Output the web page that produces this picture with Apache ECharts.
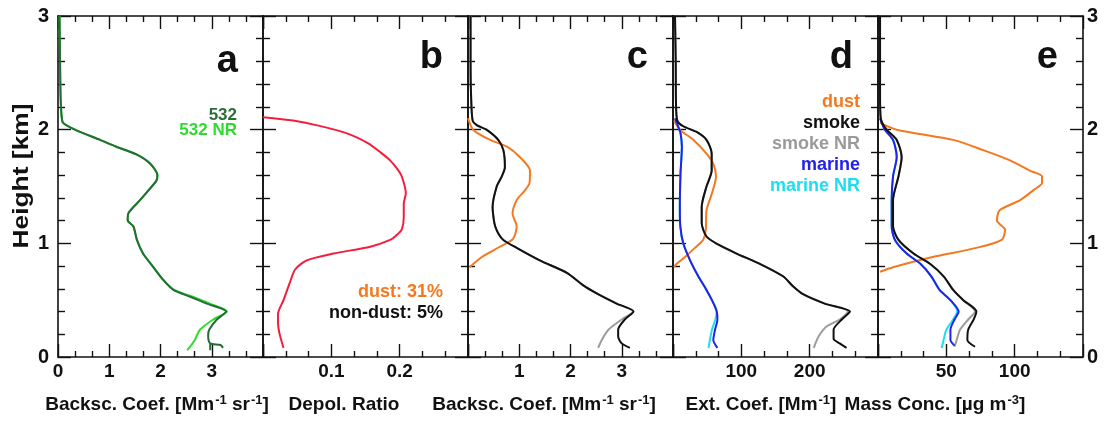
<!DOCTYPE html>
<html>
<head>
<meta charset="utf-8">
<script src="https://cdn.jsdelivr.net/npm/echarts@6/dist/echarts.min.js"></script>
<style>
  html, body { margin: 0; padding: 0; background: #fff; }
  #chart { width: 1110px; height: 423px; }
</style>
</head>
<body>
<div id="chart"></div>
<script>
// Profiles are [value, height in km] pairs, top to bottom.

// (a) backscatter coefficient at 532 nm [Mm-1 sr-1]
const bsc532 = [[0.03,3.0],[0.04,2.6],[0.05,2.3],[0.07,2.12],[0.1,2.06],[0.33,2.0],[0.82,1.91],[1.14,1.85],[1.54,1.78],[1.8,1.7],[1.94,1.6],[1.92,1.55],[1.83,1.5],[1.6,1.38],[1.37,1.26],[1.36,1.2],[1.47,1.15],[1.54,1.03],[1.66,0.91],[1.86,0.79],[2.05,0.68],[2.25,0.59],[2.58,0.53],[2.9,0.47],[3.28,0.4],[3.1,0.33],[2.95,0.24],[2.93,0.19],[2.97,0.12],[3.17,0.105],[3.22,0.08],'-',[2.97,0.12],[2.97,0.06]];
const bsc532NR = [[0.03,3.0],[0.04,2.6],[0.05,2.3],[0.07,2.12],[0.1,2.06],[0.33,2.0],[0.82,1.91],[1.14,1.85],[1.54,1.78],[1.8,1.7],[1.94,1.6],[1.92,1.55],[1.83,1.5],[1.6,1.38],[1.37,1.26],[1.36,1.2],[1.47,1.15],[1.54,1.03],[1.66,0.91],[1.86,0.79],[2.05,0.68],[2.27,0.59],[2.63,0.53],[2.96,0.47],[3.3,0.4],[3.03,0.33],[2.77,0.24],[2.67,0.15],[2.56,0.08],[2.52,0.06]];

// (b) particle depolarization ratio
const depol = [[0.0,2.11],[0.044,2.08],[0.078,2.04],[0.122,1.97],[0.154,1.88],[0.172,1.8],[0.186,1.73],[0.197,1.65],[0.203,1.59],[0.209,1.44],[0.206,1.35],[0.206,1.23],[0.203,1.12],[0.195,1.07],[0.186,1.03],[0.157,0.97],[0.103,0.91],[0.064,0.85],[0.047,0.77],[0.039,0.65],[0.03,0.5],[0.022,0.38],[0.022,0.3],[0.024,0.21],[0.03,0.08]];

// (c) backscatter coefficient split into dust and smoke
const bscSmoke = [[0.05,3.0],[0.05,2.6],[0.06,2.3],[0.09,2.08],[0.17,2.04],[0.36,2.0],[0.59,1.91],[0.69,1.82],[0.72,1.67],[0.65,1.58],[0.56,1.5],[0.48,1.32],[0.5,1.22],[0.53,1.15],[0.6,1.08],[0.69,1.03],[0.95,0.96],[1.4,0.85],[1.93,0.74],[2.25,0.63],[2.51,0.56],[2.9,0.47],[3.23,0.4],[3.06,0.33],[2.93,0.24],[2.93,0.18],[3.0,0.12],[3.16,0.08]];
const bscSmokeNR = [[0.05,3.0],[0.05,2.6],[0.06,2.3],[0.09,2.08],[0.17,2.04],[0.36,2.0],[0.59,1.91],[0.69,1.82],[0.72,1.67],[0.65,1.58],[0.56,1.5],[0.48,1.32],[0.5,1.22],[0.53,1.15],[0.6,1.08],[0.69,1.03],[0.95,0.96],[1.4,0.85],[1.93,0.74],[2.25,0.63],[2.51,0.56],[2.9,0.47],[3.22,0.4],[3.0,0.33],[2.74,0.24],[2.61,0.15],[2.54,0.08]];
const bscDust = [[0.0,2.1],[0.1,2.0],[0.43,1.91],[0.76,1.85],[1.01,1.76],[1.21,1.64],[1.2,1.53],[1.1,1.46],[0.95,1.38],[0.87,1.26],[0.95,1.15],[0.88,1.04],[0.62,0.97],[0.27,0.88],[0.03,0.79]];

// (d) extinction coefficient [Mm-1]
const extSmoke = [[2.9,3.0],[4,2.6],[4.4,2.23],[6.3,2.08],[15,2.03],[34.6,1.98],[49,1.91],[56.6,1.79],[56.6,1.64],[49,1.5],[42,1.32],[42,1.18],[49,1.06],[66,0.99],[93,0.91],[127,0.82],[161,0.71],[176,0.62],[191,0.55],[222,0.47],[259,0.4],[247,0.33],[235,0.24],[235,0.16],[244,0.12],[254,0.08]];
const extSmokeNR = [[2.9,3.0],[4,2.6],[4.4,2.23],[6.3,2.08],[15,2.03],[34.6,1.98],[49,1.91],[56.6,1.79],[56.6,1.64],[49,1.5],[42,1.32],[42,1.18],[49,1.06],[66,0.99],[93,0.91],[127,0.82],[161,0.71],[176,0.62],[191,0.55],[222,0.47],[256,0.4],[244,0.33],[225,0.27],[213,0.18],[206,0.08]];
const extDust = [[1.5,2.08],[10,2.0],[30,1.91],[49,1.79],[59,1.7],[63,1.59],[57,1.44],[49,1.29],[48,1.12],[44,1.03],[32,0.96],[17.6,0.88],[5.4,0.82],[1.5,0.79]];
const extMarine = [[3,2.1],[8,2.02],[11,1.97],[13,1.85],[12,1.72],[11,1.62],[10,1.32],[10.7,1.15],[15,1.0],[25,0.85],[37,0.71],[49,0.59],[57,0.5],[64,0.4],[65,0.33],[61.5,0.24],[59,0.15],[65,0.08]];
const extMarineNR = [[3,2.1],[8,2.02],[11,1.97],[13,1.85],[12,1.72],[11,1.62],[10,1.32],[10.7,1.15],[15,1.0],[25,0.85],[37,0.71],[49,0.59],[57,0.5],[64,0.4],[62,0.33],[57,0.24],[54,0.15],[52,0.08]];

// (e) mass concentration [ug m-3]
const massDust = [[1.5,2.06],[13.7,2.0],[55,1.91],[77,1.82],[96.6,1.73],[111,1.64],[120,1.59],[120,1.53],[114,1.47],[104,1.38],[89,1.29],[87,1.2],[93,1.12],[90.5,1.03],[72,0.96],[40,0.88],[11,0.79],[1.5,0.75]];
const massSmoke = [[1.5,3.0],[1.5,2.3],[2,2.1],[6.3,2.0],[13.7,1.91],[17.3,1.76],[15,1.59],[11,1.38],[11,1.15],[15,1.03],[26,0.91],[38,0.82],[48,0.71],[55,0.59],[62.4,0.5],[72,0.4],[70,0.33],[66,0.24],[65.4,0.15],[71,0.09]];
const massSmokeNR = [[1.5,3.0],[1.5,2.3],[2,2.1],[6.3,2.0],[13.7,1.91],[17.3,1.76],[15,1.59],[11,1.38],[11,1.15],[15,1.03],[26,0.91],[38,0.82],[48,0.71],[55,0.59],[62.4,0.5],[71,0.4],[66,0.33],[60,0.24],[57.6,0.15],[56,0.09]];
const massMarine = [[1.5,2.1],[5,2.0],[11,1.91],[13.7,1.76],[11,1.59],[10,1.38],[10,1.15],[12.4,1.03],[21,0.91],[31,0.82],[39,0.71],[45,0.59],[53,0.5],[59,0.4],[56,0.33],[53,0.24],[53,0.15],[56,0.1]];
const massMarineNR = [[1.5,2.1],[5,2.0],[11,1.91],[13.7,1.76],[11,1.59],[10,1.38],[10,1.15],[12.4,1.03],[21,0.91],[31,0.82],[39,0.71],[45,0.59],[53,0.5],[58,0.4],[55,0.33],[50,0.24],[48,0.15],[46.6,0.08]];

// axis ranges and labelled ticks
const heightTicks = [0, 1, 2, 3];
const xMax = [4, 0.3, 4, 300, 150];
const xStep = [1, 0.1, 1, 100, 50];
const xTickLabels = [[0, 1, 2, 3], [0.1, 0.2], [1, 2, 3], [100, 200], [50, 100]];
const panelLetters = ['a', 'b', 'c', 'd', 'e'];

const FONT = '"Liberation Sans", Arial, Helvetica, sans-serif';
const C = {
  green: '#256d37', greenNR: '#2fdc2f', red: '#f51d3c', orange: '#f5781e',
  black: '#111111', gray: '#9c9c9c', blue: '#2222ea', cyan: '#1fdcf0'
};

const panelLeft = 58, panelW = 205, panelTop = 16, panelH = 341;

const grids = [], xAxes = [], yAxes = [];
const tickStyle = { color: '#111', width: 1.4 };

function near(v, list) { return list.some(t => Math.abs(v - t) < 1e-6); }

for (let i = 0; i < 5; i++) {
  grids.push({ left: panelLeft + i * panelW, top: panelTop, width: panelW, height: panelH });
  ['bottom', 'top'].forEach(pos => {
    xAxes.push({
      type: 'value', gridIndex: i, position: pos, min: 0, max: xMax[i], interval: xStep[i],
      axisLine: { onZero: false, lineStyle: { color: '#111', width: 1.6 } },
      axisTick: { inside: true, length: 13, lineStyle: tickStyle },
      minorTick: { show: true, splitNumber: 3, length: 6, lineStyle: tickStyle },
      splitLine: { show: false }, minorSplitLine: { show: false },
      axisLabel: {
        show: pos === 'bottom', margin: 5, color: '#111',
        fontFamily: FONT, fontWeight: 'bold', fontSize: 19,
        showMinLabel: true, showMaxLabel: true,
        formatter: v => near(v, xTickLabels[i]) ? String(+v.toFixed(3)) : ''
      }
    });
  });
  ['left', 'right'].forEach(pos => {
    const showLab = (i === 0 && pos === 'left') || (i === 4 && pos === 'right');
    yAxes.push({
      type: 'value', gridIndex: i, position: pos, min: 0, max: 3, interval: 1,
      axisLine: { onZero: false, lineStyle: { color: '#111', width: 1.6 } },
      axisTick: { inside: true, length: 13, lineStyle: tickStyle },
      minorTick: { show: true, splitNumber: 5, length: 7, lineStyle: tickStyle },
      splitLine: { show: false }, minorSplitLine: { show: false },
      axisLabel: {
        show: showLab, margin: pos === 'left' ? 9 : 4, color: '#111',
        fontFamily: FONT, fontWeight: 'bold', fontSize: 20,
        formatter: v => near(v, heightTicks) ? String(Math.round(v)) : ''
      }
    });
  });
}

function line(panel, data, color, width) {
  return {
    type: 'line', xAxisIndex: panel * 2, yAxisIndex: panel * 2, data: data,
    showSymbol: false, smooth: 0.25, connectNulls: false, silent: true,
    lineStyle: { color: color, width: width || 2 }
  };
}

const series = [
  line(0, bsc532NR, C.greenNR), line(0, bsc532, C.green),
  line(1, depol, C.red),
  line(2, bscSmokeNR, C.gray), line(2, bscDust, C.orange), line(2, bscSmoke, C.black),
  line(3, extSmokeNR, C.gray), line(3, extMarineNR, C.cyan), line(3, extDust, C.orange),
  line(3, extMarine, C.blue), line(3, extSmoke, C.black),
  line(4, massSmokeNR, C.gray), line(4, massMarineNR, C.cyan), line(4, massDust, C.orange),
  line(4, massMarine, C.blue), line(4, massSmoke, C.black)
];

function txt(text, x, y, size, color, align, extra) {
  return Object.assign({
    type: 'text', x: x, y: y, silent: true,
    style: {
      text: text, fill: color, fontFamily: FONT, fontWeight: 'bold', fontSize: size,
      textAlign: align || 'center', textVerticalAlign: 'bottom'
    }
  }, extra || {});
}

const supRich = {
  sup: { fontSize: 13, fontWeight: 'bold', fontFamily: FONT, fill: '#111', verticalAlign: 'top', lineHeight: 12, padding: [0, 0, 0, 1] }
};
function axisTitle(text, cx) {
  return {
    type: 'text', x: cx, y: 405, silent: true,
    style: {
      text: text, fill: '#111', fontFamily: FONT, fontWeight: 'bold', fontSize: 19, lineHeight: 23,
      textAlign: 'center', textVerticalAlign: 'middle', rich: supRich
    }
  };
}

const graphics = [
  // y-axis title
  {
    type: 'text', x: 22, y: 176, rotation: Math.PI / 2, scaleX: 1.2, silent: true,
    style: { text: 'Height [km]', fill: '#111', fontFamily: FONT, fontWeight: 'bold', fontSize: 22,
      textAlign: 'center', textVerticalAlign: 'middle' }
  },
  axisTitle('Backsc. Coef. [Mm{sup|-1} sr{sup|-1}]', 157),
  axisTitle('Depol. Ratio', 344),
  axisTitle('Backsc. Coef. [Mm{sup|-1} sr{sup|-1}]', 544),
  axisTitle('Ext. Coef. [Mm{sup|-1}]', 761),
  axisTitle('Mass Conc. [µg m{sup|-3}]', 935),
  // (a) legend
  txt('532', 237, 124, 17, '#2a6e3c', 'right'),
  txt('532 NR', 237, 139, 17, '#2ddc2d', 'right'),
  // (b) dust share of depolarization
  txt('dust: 31%', 443, 301, 18, C.orange, 'right'),
  txt('non-dust: 5%', 443, 322, 18, '#111', 'right'),
  // (d) aerosol type legend
  txt('dust', 860, 111, 18, C.orange, 'right'),
  txt('smoke', 860, 132, 18, '#111', 'right'),
  txt('smoke NR', 860, 153, 18, '#9a9a9a', 'right'),
  txt('marine', 860, 174, 18, C.blue, 'right'),
  txt('marine NR', 860, 195, 18, C.cyan, 'right')
];
panelLetters.forEach((s, i) => {
  graphics.push(txt(s, panelLeft + (i + 1) * panelW - 25, i === 0 ? 81 : 77, 38, '#111', 'right'));
});

const chart = echarts.init(document.getElementById('chart'), null, { renderer: 'canvas' });
chart.setOption({
  animation: false,
  backgroundColor: '#ffffff',
  grid: grids,
  xAxis: xAxes,
  yAxis: yAxes,
  series: series,
  graphic: graphics
});
</script>
</body>
</html>
